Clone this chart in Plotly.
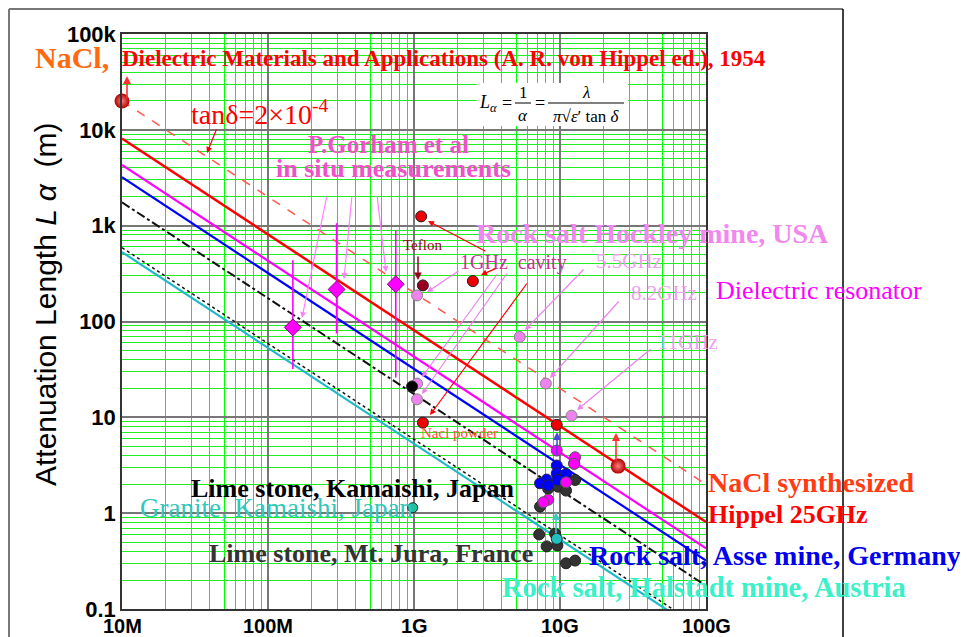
import plotly.graph_objects as go

# ---------------- axes / ticks ----------------
x_tickvals = [1e7, 1e8, 1e9, 1e10, 1e11]
x_ticktext = ["10M", "100M", "1G", "10G", "100G"]
y_tickvals = [0.1, 1, 10, 100, 1e3, 1e4, 1e5]
y_ticktext = ["0.1", "1", "10", "100", "1k", "10k", "100k"]
minor_x = [m * 10 ** d for d in range(7, 11) for m in range(2, 10)]
minor_y = [m * 10 ** d for d in range(-1, 5) for m in range(2, 10)]

# ---------------- reference lines (endpoints) ----------------
line_freq = [1e7, 1e11]
red_L = [8100, 0.81]          # Hippel 25GHz / NaCl
magenta_L = [4300, 0.43]
blue_L = [3200, 0.32]         # Asse mine
dashdot_L = [1750, 0.175]     # Lime stone
dotted_L = [590, 0.059]
cyan_L = [530, 0.053]         # Halstadt
tand_L = [20000, 2.0]         # tan d = 2e-4

# ---------------- data points ----------------
sphere_f = [1.0e7, 2.5e10]
sphere_L = [20000, 3.1]

gorham_f = [1.48e8, 2.95e8, 7.5e8]
gorham_L = [87, 216, 245]
gorham_lo = [32, 75, 26]
gorham_hi = [435, 1060, 895]

nacl_f = [1.12e9, 2.53e9, 1.15e9, 9.5e9]
nacl_L = [1250, 264, 8.8, 8.35]

teflon_f = [1.15e9]
teflon_L = [238]

dr_f = [1.05e9, 1.05e9, 1.05e9, 5.3e9, 8.0e9, 1.2e10]
dr_L = [187, 22.5, 15.4, 69, 22.5, 10.4]

black_f = [0.97e9]
black_L = [21]

asse_mag_f = [9.5e9, 1.27e10, 1.25e10, 1.1e10, 8.3e9, 7.7e9]
asse_mag_L = [4.5, 3.83, 3.27, 2.1, 1.38, 1.3]

asse_blue_f = [9.5e9, 9.5e9, 1.1e10, 9.6e9, 8.1e9, 7.3e9, 8.3e9, 1.25e10]
asse_blue_L = [3.14, 2.6, 2.57, 2.22, 2.24, 2.05, 1.95, 3.3]

lime_f = [8.3e9, 9.7e9, 1.1e10, 1.27e10, 7.3e9, 7.2e9, 9.25e9, 8.1e9, 9.6e9, 1.1e10, 1.27e10]
lime_L = [1.80, 1.89, 1.72, 2.22, 1.17, 0.60, 0.61, 0.45, 0.46, 0.30, 0.32]

halstadt_f = [9.5e9]
halstadt_L = [0.54]

granite_f = [0.98e9]
granite_L = [1.14]

# ---------------- helpers (window pixel -> paper) ----------------
X0, XW, Y1, YH = 122, 584, 609, 575
BODY = 8  # default page margin of the html body


def px(x):
    return (x - X0) / XW


def py(y):
    return (Y1 - y) / YH


SERIF = "Liberation Serif, Times New Roman, serif"
SANS = "Liberation Sans, Arial, sans-serif"

fig = go.Figure()


def add_line(L, color, width, dash="solid"):
    fig.add_trace(go.Scatter(x=line_freq, y=L, mode="lines",
                             line=dict(color=color, width=width, dash=dash),
                             hoverinfo="skip", showlegend=False))


add_line(tand_L, "#ff5a4a", 1.5, "dash")
add_line(red_L, "#ff0000", 2.5)
add_line(magenta_L, "#ff00ff", 2.2)
add_line(blue_L, "#0000ff", 2.2)
add_line(dashdot_L, "#111111", 2, "dashdot")
add_line(dotted_L, "#111111", 1.5, "dot")
add_line(cyan_L, "#20b8c8", 2.2)


def add_pts(f, L, fill, size=11, line="#222222", symbol="circle", lw=1, **kw):
    fig.add_trace(go.Scatter(x=f, y=L, mode="markers", cliponaxis=False,
                             marker=dict(color=fill, size=size, symbol=symbol,
                                         line=dict(color=line, width=lw)),
                             hoverinfo="skip", showlegend=False, **kw))


# Gorham diamonds with error bars
fig.add_trace(go.Scatter(
    x=gorham_f, y=gorham_L, mode="markers", cliponaxis=False,
    marker=dict(color="#ff00ff", size=13, symbol="diamond",
                line=dict(color="#880088", width=1)),
    error_y=dict(type="data", symmetric=False,
                 array=[h - v for h, v in zip(gorham_hi, gorham_L)],
                 arrayminus=[v - l for v, l in zip(gorham_L, gorham_lo)],
                 color="#ff00ff", thickness=1.6, width=0),
    hoverinfo="skip", showlegend=False))

add_pts(lime_f, lime_L, "#333333", line="#222222")
add_pts(asse_blue_f, asse_blue_L, "#0000ff", line="#222244")
add_pts(asse_mag_f, asse_mag_L, "#ff00ff", line="#555555")
add_pts(dr_f, dr_L, "#ee82ee", line="#888888")
add_pts(black_f, black_L, "#000000")
add_pts(nacl_f, nacl_L, "#ee0000", line="#222222")
add_pts(teflon_f, teflon_L, "#99001f", line="#222222")
add_pts(halstadt_f, halstadt_L, "#20c0c0", line="#222222")
add_pts(granite_f, granite_L, "#20c0a0", line="#222222", size=10)
# red spheres
fig.add_trace(go.Scatter(
    x=sphere_f, y=sphere_L, mode="markers", cliponaxis=False,
    marker=dict(color="#b00000", size=15,
                gradient=dict(type="radial", color="#ff8080"),
                line=dict(width=0)),
    hoverinfo="skip", showlegend=False))

annotations = []
shapes = []


def txt(x, y, text, size, color, family=SERIF, bold=False, anchor="left", **kw):
    if bold:
        text = "<b>" + text + "</b>"
    annotations.append(dict(xref="paper", yref="paper", x=px(x), y=py(y),
                            text=text, showarrow=False, xanchor=anchor,
                            yanchor="middle",
                            font=dict(size=size, color=color, family=family), **kw))


def arrow(hx, hy, tx, ty, color, width=1.2, size=1.0, head=2):
    annotations.append(dict(xref="paper", yref="paper", x=px(hx), y=py(hy),
                            ax=tx - hx, ay=ty - hy, text="", showarrow=True,
                            arrowhead=head, arrowsize=size, arrowwidth=width,
                            arrowcolor=color, standoff=0, startstandoff=0))


# titles
txt(33, 57, "NaCl,", 30, "#ff6a10", bold=True)
txt(120, 59, "Dielectric Materials and Applications (A. R. von Hippel ed.), 1954",
    23, "#ff0000", bold=True)
txt(189, 112, "tanδ=2×10<sup>-4</sup>", 28, "#ff0000")
txt(388, 144, "P.Gorham et al", 25, "#f050c8", bold=True, anchor="center")
txt(393, 168, "in situ measurements", 26, "#f050c8", bold=True, anchor="center")
txt(401, 245, "Teflon", 15, "#990020")
txt(458, 262, "1GHz  cavity", 20, "#c8329a")
txt(594, 261, "5.5GHz", 21, "#f0a0f0")
txt(629, 293, "8.2GHz", 21, "#f0a0f0")
txt(656, 342, "11GHz", 21, "#f0a0f0")
txt(474, 233, "Rock salt Hockley mine, USA", 28, "#f088f0", bold=True)
txt(714, 290, "Dielectric resonator", 26, "#ff00ff")
txt(419, 433, "Nacl powder", 15, "#ff5030")
txt(706, 482, "NaCl synthesized", 28, "#ff3c14", bold=True)
txt(706, 514, "Hippel 25GHz", 26, "#ff0000", bold=True)
txt(189, 488, "Lime stone, Kamaishi, Japan", 26, "#000000", bold=True)
txt(138, 508, "Granite, Kamaishi, Japan", 27, "#30c8b8")
txt(207, 553, "Lime stone, Mt. Jura, France", 26, "#333333", bold=True)
txt(587, 555, "Rock salt, Asse mine, Germany", 28, "#0000ee", bold=True)
txt(500, 587, "Rock salt, Halstadt mine, Austria", 28.5, "#3cf0c8", bold=True)

# y-axis title
annotations.append(dict(xref="paper", yref="paper", x=px(45), y=py(305),
                        text="Attenuation Length <i>L α</i>  (m)", showarrow=False,
                        textangle=-90, xanchor="center", yanchor="middle",
                        font=dict(size=30, color="#000000",
                                  family="Liberation Sans Narrow, Liberation Sans, Arial")))

# x tick labels drawn as annotations so they sit right under the axis
for fv, lab in zip(x_tickvals, x_ticktext):
    annotations.append(dict(xref="x", yref="paper", x=__import__("math").log10(fv),
                            y=py(626), text="<b>" + lab + "</b>", showarrow=False,
                            xanchor="center", yanchor="middle",
                            font=dict(size=20, color="#000000", family=SANS)))

# formula box
shapes.append(dict(type="rect", xref="paper", yref="paper", x0=px(477), x1=px(628),
                   y0=py(126), y1=py(83), fillcolor="white", line=dict(width=0),
                   layer="above"))
txt(488, 104, "<i>L<sub>α</sub></i>", 18, "#000000", anchor="center")
txt(507, 103, "=", 18, "#000000", anchor="center")
txt(523, 92, "1", 17, "#000000", anchor="center")
txt(523, 115, "<i>α</i>", 17, "#000000", anchor="center")
txt(540, 103, "=", 18, "#000000", anchor="center")
txt(586, 92, "<i>λ</i>", 17, "#000000", anchor="center")
txt(586, 116, "<i>π</i>√<i>ε</i>′ tan <i>δ</i>", 17, "#000000", anchor="center")
shapes.append(dict(type="line", xref="paper", yref="paper", x0=px(515), x1=px(531),
                   y0=py(103), y1=py(103), line=dict(color="#000", width=1), layer="above"))
shapes.append(dict(type="line", xref="paper", yref="paper", x0=px(548), x1=px(624),
                   y0=py(103), y1=py(103), line=dict(color="#000", width=1), layer="above"))

# arrows
arrow(207, 153, 217, 128, "#ff0000", 1.2)                 # tan delta
arrow(302, 318, 327, 195, "#ff80ff", 1.2)                 # Gorham
arrow(344, 279, 352, 195, "#ff80ff", 1.2)
arrow(386, 272, 377, 195, "#ff80ff", 1.2)
arrow(418, 280, 418, 255, "#99001f", 1.5)                 # Teflon
arrow(428, 221, 487, 252, "#ff0000", 1.2)                 # Hockley
arrow(481, 275, 497, 268, "#ff0000", 1.2)                 # 1GHz cavity
arrow(430, 415, 528, 282, "#ff0000", 1.2)                 # powder
arrow(427, 292, 460, 270, "#ee82ee", 1.2)
arrow(422, 377, 498, 273, "#ee82ee", 1.2)
arrow(422, 394, 508, 272, "#ee82ee", 1.2)
arrow(525, 330, 585, 268, "#ee82ee", 1.2)                 # 5.5GHz
arrow(550, 378, 620, 300, "#ee82ee", 1.2)                 # 8.2GHz
arrow(577, 410, 652, 348, "#ee82ee", 1.2)                 # 11GHz
arrow(127, 76, 127, 100, "#ff3030", 1.6)                  # sphere up
arrow(616, 433, 616, 462, "#ff3030", 1.6)
arrow(557, 432, 557, 457, "#4848e0", 1.6)                 # blue up
arrow(556, 512, 556, 535, "#40c8c8", 1.6)                 # cyan up

# special black gridlines (1G, 10k, 10)
shapes.append(dict(type="line", xref="x", yref="paper", x0=1e9, x1=1e9, y0=0, y1=1,
                   line=dict(color="#000000", width=1), layer="below"))
for yv in [1e4, 10]:
    shapes.append(dict(type="line", xref="paper", yref="y", x0=0, x1=1, y0=yv, y1=yv,
                       line=dict(color="#000000", width=1), layer="below"))

# outer frame (kept inside the drawable figure area)
shapes.append(dict(type="line", xref="paper", yref="paper", x0=px(9), x1=px(9),
                   y0=py(9), y1=py(640), line=dict(color="#777777", width=2)))
shapes.append(dict(type="line", xref="paper", yref="paper", x0=px(9), x1=px(843),
                   y0=py(9), y1=py(9), line=dict(color="#777777", width=2)))
shapes.append(dict(type="line", xref="paper", yref="paper", x0=px(843), x1=px(843),
                   y0=py(9), y1=py(640), line=dict(color="#000000", width=1.5)))

W, H = 968, 637
fig.update_layout(
    width=W, height=H, autosize=False,
    margin=dict(l=X0 - BODY, r=W - (X0 + XW) + BODY, t=(Y1 - YH) - BODY,
                b=H - Y1 + BODY, autoexpand=False),
    paper_bgcolor="white", plot_bgcolor="white",
    showlegend=False,
    annotations=annotations, shapes=shapes,
    xaxis=dict(type="log", range=[7, 11], tickmode="array", tickvals=x_tickvals,
               ticktext=x_ticktext, showticklabels=False,
               showgrid=True, gridcolor="#777777", gridwidth=1.5,
               showline=True, linecolor="#333333", linewidth=1.5, mirror=True,
               ticks="", ticklen=0, automargin=False,
               minor=dict(tickvals=minor_x, showgrid=True, gridcolor="#00ff00",
                          gridwidth=1, ticks=""),
               zeroline=False),
    yaxis=dict(type="log", range=[-1, 5], tickmode="array", tickvals=y_tickvals,
               ticktext=y_ticktext, showgrid=True, gridcolor="#777777", gridwidth=1.5,
               showline=True, linecolor="#333333", linewidth=1.5, mirror=True,
               ticks="", ticklen=0, automargin=False,
               tickfont=dict(size=22, color="#000000", family=SANS, weight="bold"),
               minor=dict(tickvals=minor_y, showgrid=True, gridcolor="#22ee22",
                          gridwidth=1, ticks=""),
               zeroline=False),
)

fig.write_html("out.html")
